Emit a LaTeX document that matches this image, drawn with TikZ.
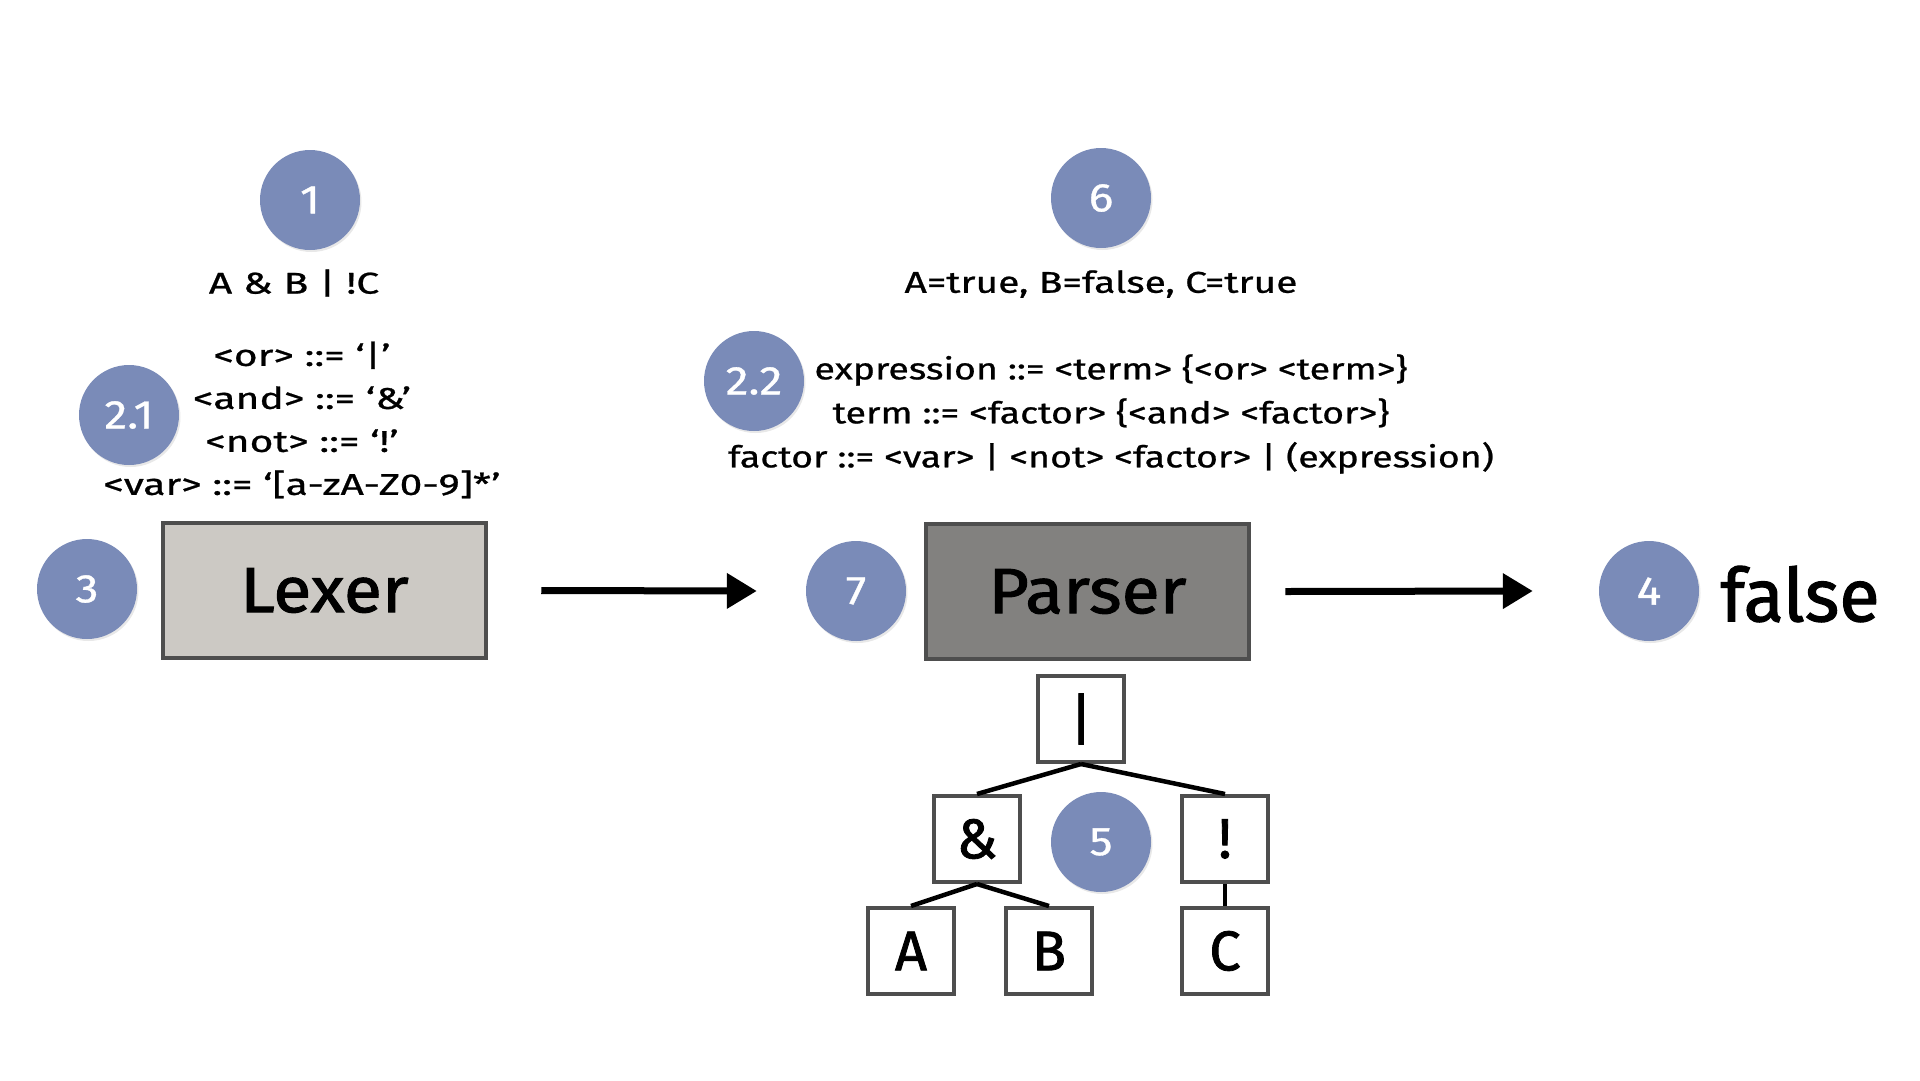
\documentclass[tikz,border=0pt]{standalone}
\usepackage{fontspec}
\setmainfont{Fira Sans}
\newfontfamily\gramA[FakeStretch=1.36,FakeBold=0.8]{Fira Sans}
\newfontfamily\gramB[FakeStretch=1.3,FakeBold=0.8]{Fira Sans}
\newfontfamily\gramC[FakeStretch=1.25,FakeBold=0.8]{Fira Sans}
\newfontfamily\stagefont[FakeStretch=1.09,FakeBold=1.5]{Fira Sans}
\newfontfamily\bigfont[FakeBold=1.5]{Fira Sans}
\newfontfamily\badgefont[FakeStretch=1.15,FakeBold=0.8]{Fira Sans}
\usetikzlibrary{arrows.meta,shadows}
\definecolor{badgeblue}{RGB}{122,139,184}
\definecolor{boxborder}{RGB}{78,78,78}
\definecolor{lexfill}{RGB}{204,201,196}
\definecolor{parfill}{RGB}{130,129,127}
\begin{document}
\begin{tikzpicture}[x=1pt,y=-1pt,
  badge/.style={circle, fill=badgeblue, minimum size=100pt, inner sep=0pt, text=white, font=\badgefont\fontsize{40}{44}\selectfont,
    drop shadow={opacity=0.18, shadow xshift=1.5pt, shadow yshift=-2pt}},
  gram/.style={align=center, inner sep=0pt},
  stage/.style={draw=boxborder, line width=4.5pt, minimum width=323pt, minimum height=135pt, inner sep=0pt, font=\stagefont\fontsize{64}{70}\selectfont,
    drop shadow={opacity=0.15, shadow xshift=2pt, shadow yshift=-2pt}},
  tbox/.style={draw=boxborder, line width=4pt, fill=white, minimum size=86pt, inner sep=0pt, font=\bigfont\fontsize{56}{60}\selectfont,
    drop shadow={opacity=0.12, shadow xshift=2pt, shadow yshift=-2pt}},
  flow/.style={-{Triangle[length=30pt,width=34pt]}, line width=7pt},
  treeedge/.style={line width=4.5pt}]
\useasboundingbox (0,0) rectangle (1920,1080);

% left column
\node[badge] (b1) at (310,200) {1};
\node[gram, font=\gramA\fontsize{30}{43}\selectfont] (input) at (294,283) {A \& B | !C};
\node[badge] (b21) at (129,415) {2.1};
\node[gram, font=\gramA\fontsize{30}{43}\selectfont] (lexgram) at (302,420) {<or> ::= ‘|’\\<and> ::= ‘\&’\\<not> ::= ‘!’\\<var> ::= ‘[a-zA-Z0-9]*’};
\node[badge] (b3) at (87,589) {3};
\node[stage, fill=lexfill] (lexer) at (324.5,590.5) {Lexer};

% middle column
\node[badge] (b6) at (1101,198) {6};
\node[gram, font=\gramB\fontsize{30}{43}\selectfont] (vals) at (1101,284) {A=true, B=false, C=true};
\node[badge] (b22) at (754,381) {2.2};
\node[gram, font=\gramC\fontsize{30}{44}\selectfont] (pargram) at (1111,414) {expression ::= <term> \{<or> <term>\}\\term ::= <factor> \{<and> <factor>\}\\factor ::= <var> | <not> <factor> | (expression)};
\node[badge] (b7) at (856,591) {7};
\node[stage, fill=parfill] (parser) at (1087.5,591.5) {Parser};

% right
\node[badge] (b4) at (1649,591) {4};
\node[font=\bigfont\fontsize{74}{80}\selectfont, inner sep=0pt] (result) at (1800,594) {false};

% arrows
\draw[flow] ([xshift=53pt]lexer.east) -- ([xshift=-49pt]b7.west);
\draw[flow] ([xshift=34pt]parser.east) -- ([xshift=-66pt]b4.west);

% tree
\node[tbox] (tor) at (1081,719) {|};
\node[tbox] (tand) at (977,839) {\&};
\node[tbox] (tnot) at (1225,839) {!};
\node[tbox] (ta) at (911,951) {A};
\node[tbox] (tb) at (1049,951) {B};
\node[tbox] (tc) at (1225,951) {C};
\node[badge] (b5) at (1101,842) {5};
\draw[treeedge] (tor.south) -- (tand.north);
\draw[treeedge] (tor.south) -- (tnot.north);
\draw[treeedge] (tand.south) -- (ta.north);
\draw[treeedge] (tand.south) -- (tb.north);
\draw[treeedge] (tnot.south) -- (tc.north);
\end{tikzpicture}
\end{document}
